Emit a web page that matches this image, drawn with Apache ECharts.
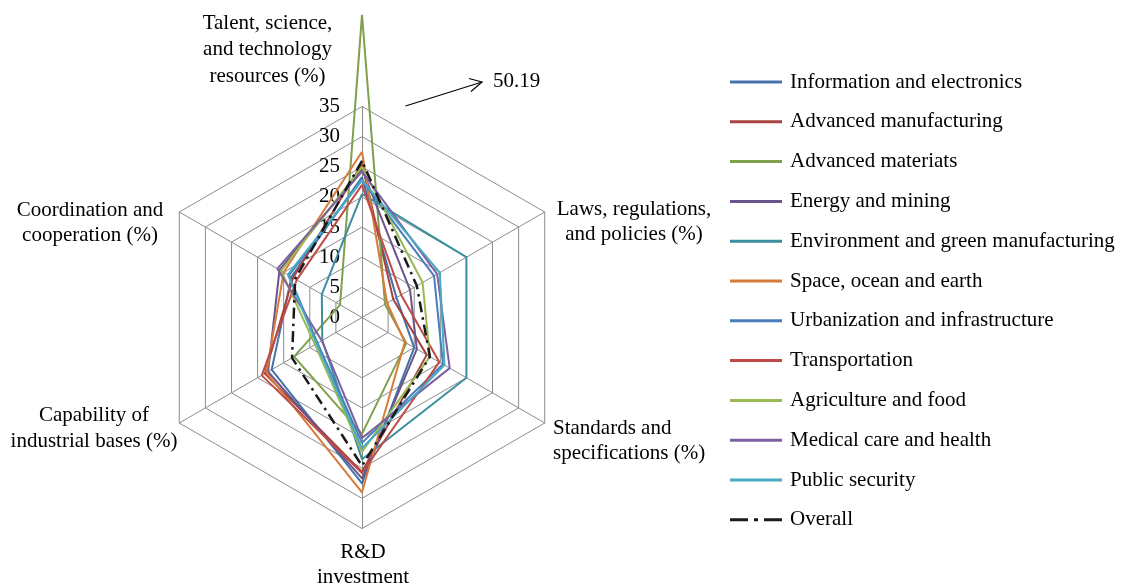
<!DOCTYPE html>
<html>
<head>
<meta charset="utf-8">
<script src="https://cdn.jsdelivr.net/npm/echarts@6/dist/echarts.min.js"></script>
<style>
  html, body { margin: 0; padding: 0; background: #ffffff; }
  #chart { width: 1123px; height: 586px; }
</style>
</head>
<body>
<div id="chart"></div>
<script>
// Indicator order runs counter-clockwise from the top spoke.
const indicatorNames = [
  'Talent, science,\nand technology\nresources (%)',
  'Coordination and\ncooperation (%)',
  'Capability of\nindustrial bases (%)',
  'R&D\ninvestment',
  'Standards and\nspecifications (%)',
  'Laws, regulations,\nand policies (%)'
];
const axisMax = 35;
const axisStep = 5;

const seriesNames = [
  'Information and electronics',
  'Advanced manufacturing',
  'Advanced materiats',
  'Energy and mining',
  'Environment and green manufacturing',
  'Space, ocean and earth',
  'Urbanization and infrastructure',
  'Transportation',
  'Agriculture and food',
  'Medical care and health',
  'Public security',
  'Overall'
];

// Shares (%) in indicator order: Talent, Coordination, Capability, R&D, Standards, Laws
const infoElectronics   = [23.3, 13.5, 17.3, 27.5, 10.0,  6.6];
const advManufacturing  = [25.5, 13.2, 18.6, 25.6, 12.4,  6.0];
const advMaterials      = [50.19, 4.2, 13.0, 19.3,  8.5,  4.4];
const energyMining      = [24.6, 15.8, 18.0, 26.7, 10.5,  9.2];
const environmentGreen  = [20.5,  7.7,  7.6, 23.5, 20.0, 20.0];
const spaceOceanEarth   = [27.5, 15.0, 18.3, 29.0,  8.2,  4.8];
const urbanization      = [22.8, 14.0,  8.5, 20.8, 15.5, 13.8];
const transportation    = [22.0, 12.5, 19.2, 25.8, 14.8,  7.5];
const agricultureFood   = [25.0, 15.5,  9.0, 22.3, 13.0, 11.6];
const medicalHealth     = [24.2, 16.2,  7.7, 20.0, 16.8, 14.4];
const publicSecurity    = [22.8, 14.2,  8.7, 21.7, 15.8, 14.9];
const overall           = [26.0, 12.8, 13.4, 24.6, 13.0, 10.5];

const seriesValues = [
  infoElectronics, advManufacturing, advMaterials, energyMining,
  environmentGreen, spaceOceanEarth, urbanization, transportation,
  agricultureFood, medicalHealth, publicSecurity, overall
];

const seriesColors = [
  '#4672A9', '#A8423F', '#80A04E', '#6B5489', '#3D8EA0', '#D77B3A',
  '#4A7EBB', '#BE4B48', '#98B954', '#7D60A0', '#46AAC5', '#1a1a1a'
];

const peakLabel = '50.19';

const serif = '"Liberation Serif", "Times New Roman", serif';
const fontPx = 21;
const cx = 362, cy = 317.5, radius = 211;

const chart = echarts.init(document.getElementById('chart'), null, { renderer: 'canvas' });

const indicators = indicatorNames.map(function (name, i) {
  const ind = { name: name, min: 0, max: axisMax };
  if (i === 0) {
    // scale values are printed along the top spoke only
    ind.axisLabel = {
      show: true,
      color: '#000',
      fontSize: fontPx,
      fontFamily: serif,
      margin: 22,
      padding: [4, 0, 0, 0]
    };
  }
  return ind;
});

const solidIcon = 'path://M0,0H52V3H0Z';
const dashDotIcon = 'path://M0,0H18V3H0Z M24,0H28V3H24Z M34,0H52V3H34Z';

const series = seriesNames.map(function (name, i) {
  const isOverall = i === seriesNames.length - 1;
  return {
    type: 'radar',
    name: name,
    symbol: 'none',
    silent: true,
    z: 2 + i,
    lineStyle: {
      color: seriesColors[i],
      width: isOverall ? 2.5 : 2,
      type: isOverall ? [11, 5, 2.5, 5] : 'solid'
    },
    itemStyle: { color: seriesColors[i] },
    data: [{ name: name, value: seriesValues[i] }]
  };
});

function axisTitle(text, x, y, align, lineHeight) {
  return {
    type: 'text',
    x: x,
    y: y,
    silent: true,
    style: {
      text: text,
      fill: '#000',
      font: fontPx + 'px ' + serif,
      lineHeight: lineHeight || 25.5,
      align: align || 'center',
      verticalAlign: 'middle'
    }
  };
}

chart.setOption({
  backgroundColor: '#ffffff',
  animation: false,
  radar: {
    center: [cx, cy],
    radius: radius,
    startAngle: 90,
    shape: 'polygon',
    splitNumber: axisMax / axisStep,
    axisName: { show: false },
    axisLine: { lineStyle: { color: '#8c8c8c', width: 1 } },
    splitLine: { lineStyle: { color: '#8c8c8c', width: 1 } },
    splitArea: { show: false },
    axisTick: { show: false },
    axisLabel: { show: false },
    indicator: indicators
  },
  legend: {
    orient: 'vertical',
    left: 730,
    top: 71,
    padding: 0,
    itemWidth: 52,
    itemHeight: 3,
    itemGap: 17.8,
    selectedMode: false,
    textStyle: {
      color: '#000',
      fontSize: fontPx,
      fontFamily: serif,
      lineHeight: 22,
      padding: [0, 0, 0, 3]
    },
    data: seriesNames.map(function (name, i) {
      return {
        name: name,
        icon: i === seriesNames.length - 1 ? dashDotIcon : solidIcon,
        itemStyle: { color: seriesColors[i] }
      };
    })
  },
  graphic: [
    axisTitle(indicatorNames[0], 267.5, 49.8, 'center', 26.7),
    axisTitle(indicatorNames[5], 634, 221.8, 'center'),
    axisTitle(indicatorNames[4], 553, 441, 'left'),
    axisTitle(indicatorNames[3], 363, 565, 'center'),
    axisTitle(indicatorNames[2], 94, 428.5, 'center'),
    axisTitle(indicatorNames[1], 90, 222.8, 'center'),
    {
      type: 'line',
      silent: true,
      shape: { x1: 405.5, y1: 106, x2: 482, y2: 82 },
      style: { stroke: '#000', lineWidth: 1.2 }
    },
    {
      type: 'polyline',
      silent: true,
      shape: { points: [[469, 78.5], [482, 82], [471, 91.5]] },
      style: { stroke: '#000', lineWidth: 1.2, fill: null }
    },
    {
      type: 'text',
      x: 493,
      y: 81,
      silent: true,
      style: {
        text: peakLabel,
        fill: '#000',
        font: fontPx + 'px ' + serif,
        align: 'left',
        verticalAlign: 'middle'
      }
    }
  ],
  series: series
});
</script>
</body>
</html>
